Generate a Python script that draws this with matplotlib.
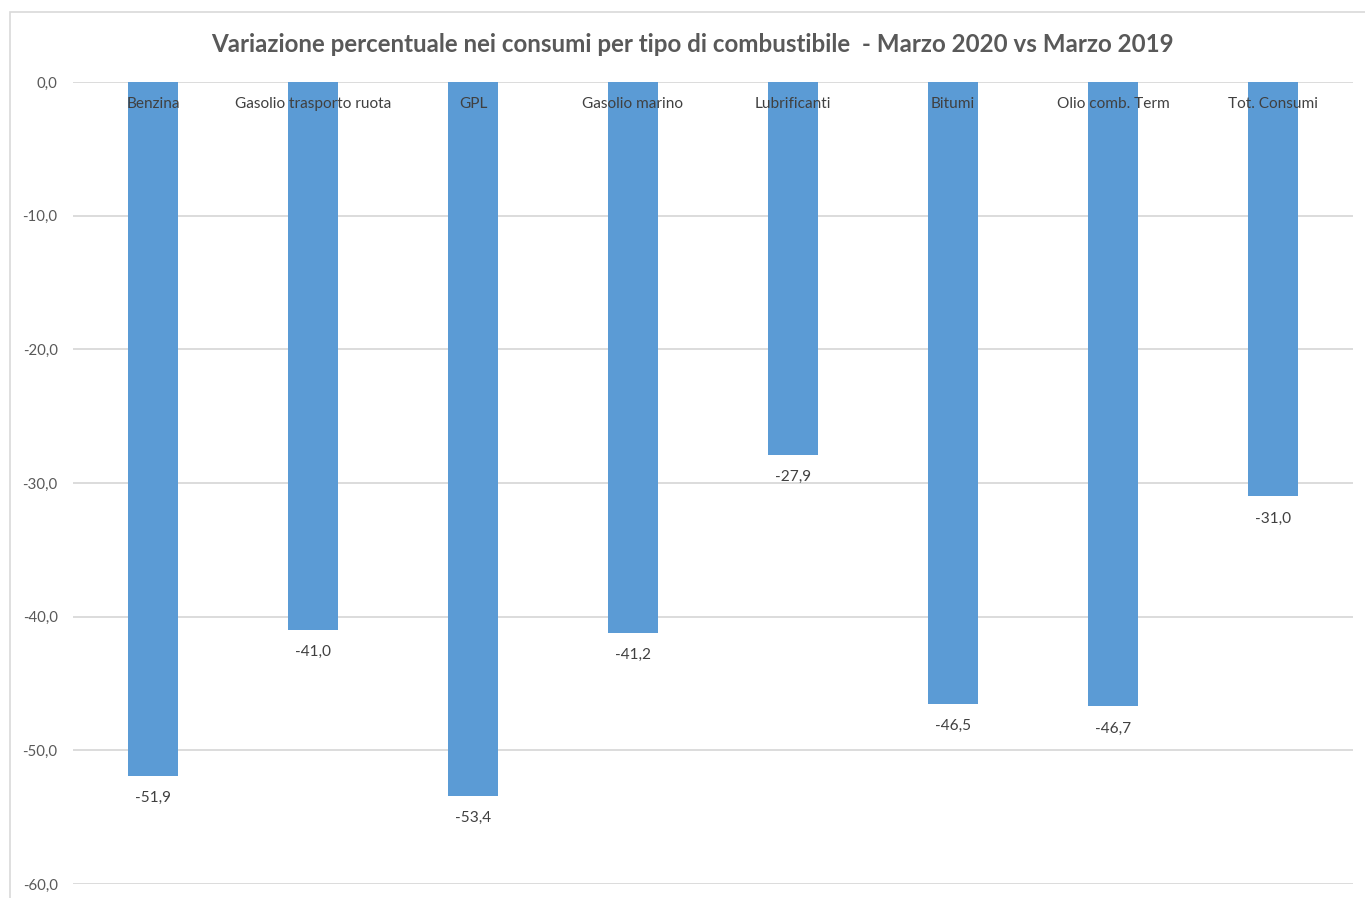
import matplotlib.pyplot as plt
from matplotlib.patches import Rectangle

# --- Data ---
categorie = ['Benzina', 'Gasolio trasporto ruota', 'GPL', 'Gasolio marino',
             'Lubrificanti', 'Bitumi', 'Olio comb. Term', 'Tot. Consumi']
variazione = [-51.9, -41.0, -53.4, -41.2, -27.9, -46.5, -46.7, -31.0]
y_ticks = [0, -10, -20, -30, -40, -50, -60]

TITOLO = 'Variazione percentuale nei consumi per tipo di combustibile  - Marzo 2020 vs Marzo 2019'
BAR_COLOR = '#5B9BD5'
GRID_COLOR = '#D9D9D9'
TEXT_COLOR = '#404040'
AXIS_TEXT = '#595959'

plt.rcParams['font.family'] = ['Lato', 'DejaVu Sans']


def fmt(v):
    return f'{v:.1f}'.replace('.', ',')


fig = plt.figure(figsize=(13.65, 8.98), dpi=100)
ax = fig.add_axes([73 / 1365, 1 - 884 / 898, 1280 / 1365, 802 / 898])

# chart frame
fig.patches.append(Rectangle((10 / 1365, -0.05), 1.1, 1 - 12 / 898 + 0.05,
                             transform=fig.transFigure, fill=False,
                             edgecolor=GRID_COLOR, linewidth=1.2))

x = range(len(categorie))
ax.bar(x, variazione, width=0.3125, color=BAR_COLOR, zorder=2)

ax.set_xlim(-0.5, len(categorie) - 0.5)
ax.set_ylim(-60, 0)
ax.set_yticks(y_ticks)
ax.set_yticklabels([fmt(t) for t in y_ticks], color=AXIS_TEXT, fontsize=10.8)
ax.tick_params(axis='y', length=0, pad=11)
ax.set_xticks([])
ax.grid(axis='y', color=GRID_COLOR, linewidth=1.3, zorder=0)
for s in ax.spines.values():
    s.set_visible(False)

for i, (cat, v) in enumerate(zip(categorie, variazione)):
    ax.annotate(cat, (i, 0), xytext=(0, -16), textcoords='offset points',
                ha='center', va='center', fontsize=11.1, color=TEXT_COLOR, zorder=3)
    ax.annotate(fmt(v), (i, v), xytext=(0, -16), textcoords='offset points',
                ha='center', va='center', fontsize=11.1, color=TEXT_COLOR, zorder=3)

fig.text(692 / 1365, 1 - 45 / 898, TITOLO, ha='center', va='center',
         fontsize=17.4, fontweight='bold', color=AXIS_TEXT)

fig.savefig('out.png', dpi=100)
